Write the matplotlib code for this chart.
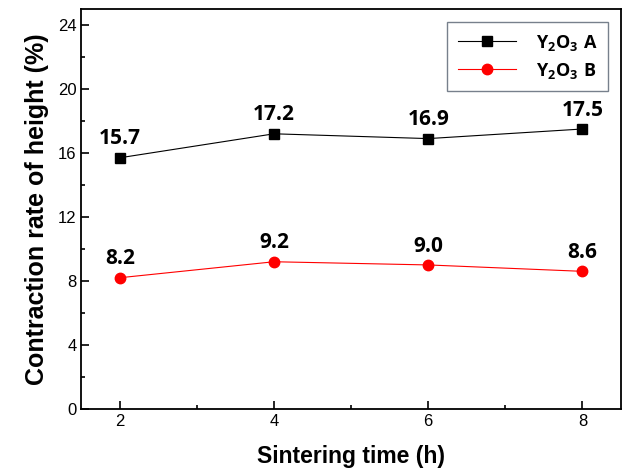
import matplotlib
matplotlib.use("Agg")
import matplotlib.pyplot as plt
from matplotlib.ticker import MultipleLocator

# data
times = [2, 4, 6, 8]
rate_a = [15.7, 17.2, 16.9, 17.5]
rate_b = [8.2, 9.2, 9.0, 8.6]
labels_a = ["15.7", "17.2", "16.9", "17.5"]
labels_b = ["8.2", "9.2", "9.0", "8.6"]

plt.rcParams['font.family'] = ['Liberation Sans', 'DejaVu Sans']
plt.rcParams['mathtext.fontset'] = 'custom'
plt.rcParams['mathtext.rm'] = 'Open Sans:bold'
plt.rcParams['mathtext.bf'] = 'Open Sans:bold'

fig = plt.figure(figsize=(6.25, 4.76), dpi=100)
ax = fig.add_axes([0.13, 0.141, 0.8636, 0.84])

ax.plot(times, rate_a, color='black', lw=0.8, marker='s', ms=6.5,
        label=r'$\mathbf{Y_2O_3\ A}$')
ax.plot(times, rate_b, color='red', lw=0.8, marker='o', ms=7.5,
        label=r'$\mathbf{Y_2O_3\ B}$')

for x, y, s in zip(times, rate_a, labels_a):
    ax.annotate(s, (x, y), xytext=(0, 6), textcoords='offset points',
                ha='center', va='bottom', fontsize=15, fontweight='bold',
                family='Open Sans')
for x, y, s in zip(times, rate_b, labels_b):
    ax.annotate(s, (x, y), xytext=(0, 6), textcoords='offset points',
                ha='center', va='bottom', fontsize=15, fontweight='bold',
                family='Open Sans')

ax.set_xlim(1.5, 8.5)
ax.set_ylim(0, 25)
ax.set_xticks(times)
ax.set_yticks([0, 4, 8, 12, 16, 20, 24])
ax.xaxis.set_minor_locator(MultipleLocator(1))
ax.yaxis.set_minor_locator(MultipleLocator(2))
ax.tick_params(which='both', direction='in', labelsize=12, width=1.2)
ax.tick_params(which='major', length=6)
ax.tick_params(which='minor', length=3)
for sp in ax.spines.values():
    sp.set_linewidth(1.3)

ax.set_xlabel('Sintering time (h)', fontsize=16.5, fontweight='bold', labelpad=12)
ax.set_ylabel('Contraction rate of height (%)', fontsize=18, fontweight='bold', labelpad=6)

leg = ax.legend(loc='upper right', fontsize=13, handlelength=3.2,
                handletextpad=1.1, fancybox=False, borderaxespad=0.7,
                borderpad=0.6, labelspacing=0.45)
leg.get_frame().set_edgecolor('#556070')
leg.get_frame().set_linewidth(1.0)

fig.savefig('out.png', dpi=100)
